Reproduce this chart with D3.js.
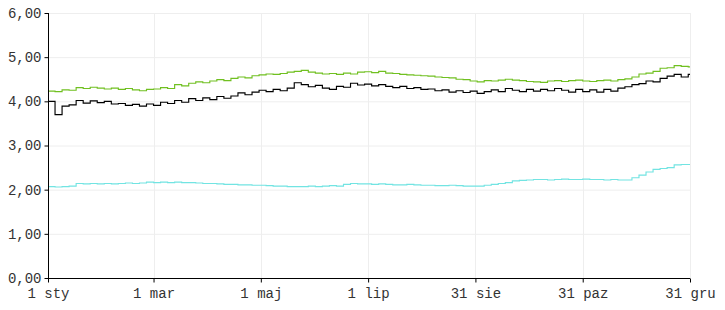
<!DOCTYPE html>
<html>
<head>
<meta charset="utf-8">
<script src="https://cdn.jsdelivr.net/npm/d3@7"></script>
<style>
	body { margin: 0 ; background: #fff ; }
	svg text { font-family: "Liberation Mono", "Courier New", monospace ; font-size: 14px ; fill: #333 ; }
</style>
</head>
<body>
<div id="chart"></div>
<script>

const viewWidth = 725 ;
const viewHeight = 310 ;

// samples every 4 days from 1 sty
const sampleStep = 4 ;

const greenValues = [
	4.23, 4.22, 4.26, 4.25, 4.31, 4.29,
	4.32, 4.30, 4.28, 4.30, 4.27, 4.29,
	4.26, 4.24, 4.27, 4.28, 4.31, 4.29,
	4.38, 4.35, 4.41, 4.44, 4.42, 4.46,
	4.49, 4.47, 4.52, 4.55, 4.53, 4.58,
	4.60, 4.62, 4.61, 4.63, 4.66, 4.68,
	4.70, 4.66, 4.64, 4.62, 4.63, 4.61,
	4.64, 4.62, 4.66, 4.67, 4.65, 4.68,
	4.64, 4.63, 4.61, 4.60, 4.59, 4.58,
	4.57, 4.55, 4.54, 4.53, 4.50, 4.49,
	4.46, 4.44, 4.47, 4.46, 4.48, 4.50,
	4.48, 4.47, 4.45, 4.44, 4.43, 4.46,
	4.47, 4.45, 4.47, 4.48, 4.46, 4.45,
	4.47, 4.48, 4.46, 4.49, 4.51, 4.55,
	4.62, 4.64, 4.68, 4.75, 4.76, 4.81,
	4.79, 4.78
] ;

const blackValues = [
	4.00, 3.70, 3.89, 3.92, 4.02, 3.96,
	4.01, 3.97, 4.00, 3.94, 3.95, 3.91,
	3.93, 3.89, 3.94, 3.91, 3.98, 3.95,
	4.02, 3.98, 4.06, 4.02, 4.08, 4.04,
	4.11, 4.07, 4.12, 4.19, 4.15, 4.21,
	4.25, 4.22, 4.27, 4.24, 4.30, 4.42,
	4.38, 4.33, 4.36, 4.30, 4.27, 4.34,
	4.32, 4.41, 4.37, 4.39, 4.35, 4.38,
	4.34, 4.31, 4.34, 4.29, 4.31, 4.27,
	4.28, 4.24, 4.26, 4.21, 4.24, 4.20,
	4.23, 4.18, 4.22, 4.26, 4.22, 4.29,
	4.25, 4.22, 4.27, 4.23, 4.27, 4.24,
	4.29, 4.25, 4.21, 4.27, 4.22, 4.26,
	4.21, 4.27, 4.23, 4.30, 4.33, 4.38,
	4.40, 4.46, 4.44, 4.52, 4.57, 4.61,
	4.55, 4.61
] ;

const cyanValues = [
	2.07, 2.06, 2.07, 2.08, 2.14, 2.13,
	2.14, 2.13, 2.14, 2.13, 2.14, 2.15,
	2.14, 2.15, 2.17, 2.16, 2.17, 2.16,
	2.17, 2.16, 2.16, 2.15, 2.14, 2.14,
	2.13, 2.12, 2.12, 2.11, 2.11, 2.10,
	2.10, 2.09, 2.08, 2.08, 2.07, 2.07,
	2.07, 2.08, 2.07, 2.08, 2.09, 2.08,
	2.12, 2.14, 2.13, 2.13, 2.12, 2.13,
	2.12, 2.11, 2.11, 2.12, 2.11, 2.10,
	2.10, 2.09, 2.09, 2.10, 2.09, 2.08,
	2.08, 2.08, 2.10, 2.12, 2.14, 2.16,
	2.20, 2.21, 2.22, 2.23, 2.23, 2.22,
	2.23, 2.24, 2.23, 2.23, 2.24, 2.23,
	2.23, 2.22, 2.23, 2.22, 2.22, 2.27,
	2.33, 2.40, 2.46, 2.48, 2.50, 2.56,
	2.57, 2.57
] ;

const xTickDates = [ "2012-01-01", "2012-03-01", "2012-05-01", "2012-07-01", "2012-08-31", "2012-10-31", "2012-12-31" ] ;
const xTickLabels = [ "1 sty", "1 mar", "1 maj", "1 lip", "31 sie", "31 paz", "31 gru" ] ;
const yTicks = [ 0, 1, 2, 3, 4, 5, 6 ] ;
const yTickLabels = [ "0,00", "1,00", "2,00", "3,00", "4,00", "5,00", "6,00" ] ;

const series = [
	{ name: "green", color: "#70c020", values: greenValues },
	{ name: "black", color: "#000000", values: blackValues },
	{ name: "cyan",  color: "#72e4e2", values: cyanValues }
] ;

const margin = { left: 48, right: 35, top: 13, bottom: 32 } ;

const parseDate = d3.utcParse( "%Y-%m-%d" ) ;
const startDate = parseDate( xTickDates[0] ) ;
const endDate = parseDate( xTickDates[ xTickDates.length-1 ] ) ;

function sampleDate( i ) {
	return d3.utcDay.offset( startDate, i * sampleStep ) ;
}

const svg = d3.select( "#chart" ).append( "svg" )
	.attr( "width", viewWidth )
	.attr( "height", viewHeight ) ;

const x = d3.scaleUtc()
	.domain( [ startDate, endDate ] )
	.range( [ margin.left, viewWidth - margin.right ] ) ;

const y = d3.scaleLinear()
	.domain( [ 0, 6 ] )
	.range( [ viewHeight - margin.bottom, margin.top ] ) ;

const tickDates = xTickDates.map( parseDate ) ;

// grid
svg.append( "g" ).selectAll( "line.h" )
	.data( yTicks )
	.enter().append( "line" )
		.attr( "x1", margin.left ).attr( "x2", viewWidth - margin.right )
		.attr( "y1", d => y(d) + 0.5 ).attr( "y2", d => y(d) + 0.5 )
		.attr( "stroke", "#eeeeee" ) ;

svg.append( "g" ).selectAll( "line.v" )
	.data( tickDates )
	.enter().append( "line" )
		.attr( "x1", d => Math.round( x(d) ) + 0.5 ).attr( "x2", d => Math.round( x(d) ) + 0.5 )
		.attr( "y1", margin.top ).attr( "y2", viewHeight - margin.bottom )
		.attr( "stroke", "#eeeeee" ) ;

// lines
const line = d3.line()
	.x( d => x( d.date ) )
	.y( d => y( d.value ) )
	.curve( d3.curveStepAfter ) ;

series.forEach( function(s) {
	var pts = s.values.map( function(v, i) { return { date: sampleDate(i), value: v } ; } ) ;
	pts.push( { date: endDate, value: s.values[ s.values.length-1 ] } ) ;
	svg.append( "path" )
		.datum( pts )
		.attr( "fill", "none" )
		.attr( "stroke", s.color )
		.attr( "stroke-width", 1.15 )
		.attr( "d", line ) ;
} ) ;

// axes
const yAxis = d3.axisLeft( y )
	.tickValues( yTicks )
	.tickSize( 4 )
	.tickPadding( 3 )
	.tickFormat( (d, i) => yTickLabels[i] ) ;

const gy = svg.append( "g" )
	.attr( "transform", "translate(" + (margin.left + 0.5) + ",0)" )
	.call( yAxis ) ;

const xAxis = d3.axisBottom( x )
	.tickValues( tickDates )
	.tickSize( 4 )
	.tickPadding( 6 )
	.tickFormat( (d, i) => xTickLabels[i] ) ;

const gx = svg.append( "g" )
	.attr( "transform", "translate(0," + (viewHeight - margin.bottom + 0.5) + ")" )
	.call( xAxis ) ;

[ gx, gy ].forEach( function(g) {
	g.attr( "font-family", null ).attr( "font-size", null ) ;
	g.select( ".domain" ).attr( "stroke", "#000" ) ;
	g.selectAll( ".tick line" ).attr( "stroke", "#000" ) ;
} ) ;
gy.select( ".domain" ).attr( "d", "M-0," + (viewHeight - margin.bottom) + "V" + margin.top ) ;
gx.select( ".domain" ).attr( "d", "M" + margin.left + ",0H" + (viewWidth - margin.right) ) ;

</script>
</body>
</html>
